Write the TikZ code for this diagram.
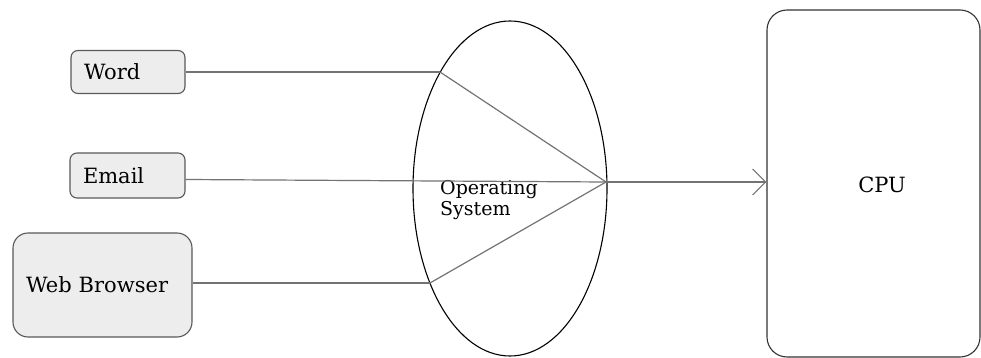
\documentclass[tikz,border=0pt]{standalone}
\usepackage{fontspec}
\setmainfont{DejaVu Serif}
\usetikzlibrary{shapes.geometric,arrows.meta}
\begin{document}
\begin{tikzpicture}[x=1pt,y=1pt,
  appbox/.style={draw=black!65,fill=black!7,line width=1.1pt,inner xsep=13pt,inner ysep=0pt,align=left,font=\fontsize{21}{23}\selectfont},
  link/.style={draw=black!55,line width=1.2pt},
  txt/.style={font=\fontsize{19}{21}\selectfont,inner sep=0pt,align=left}]
\useasboundingbox (0,0) rectangle (981,-358);
\node[appbox,rounded corners=7pt,minimum width=114,minimum height=43,text width=88] (word) at (128,-72) {Word};
\node[appbox,rounded corners=7pt,minimum width=115,minimum height=45,text width=89] (email) at (127.5,-175.5) {Email};
\node[appbox,rounded corners=15pt,minimum width=179,minimum height=104,text width=153] (web) at (102.5,-285) {Web Browser};
\node[draw=black,line width=1.1pt,ellipse,minimum width=194,minimum height=335,inner sep=0pt] (os) at (510,-188.5) {};
\node[txt,anchor=north west] (ostext) at (440,-180) {Operating\\System};
\node[draw=black!80,line width=1.1pt,rounded corners=20pt,minimum width=213,minimum height=347,inner sep=0pt] (cpu) at (873.5,-183.5) {};
\node[txt,font=\fontsize{21}{23}\selectfont] (cputext) at (882,-185) {CPU};
\coordinate (wordhit) at (440,-72);
\coordinate (webhit) at (430,-283);
\coordinate (conv) at (606,-182);
\draw[link] (word.east) -- (wordhit);
\draw[link] ([yshift=-4pt]email.east) -- (conv);
\draw[link] (web.east |- webhit) -- (webhit);
\draw[link] (wordhit) -- (conv);
\draw[link] (webhit) -- (conv);
\draw[link,-{Straight Barb[length=13pt,width=26pt,line width=1.2pt]}] (conv) -- (cpu.west |- conv);
\end{tikzpicture}
\end{document}
